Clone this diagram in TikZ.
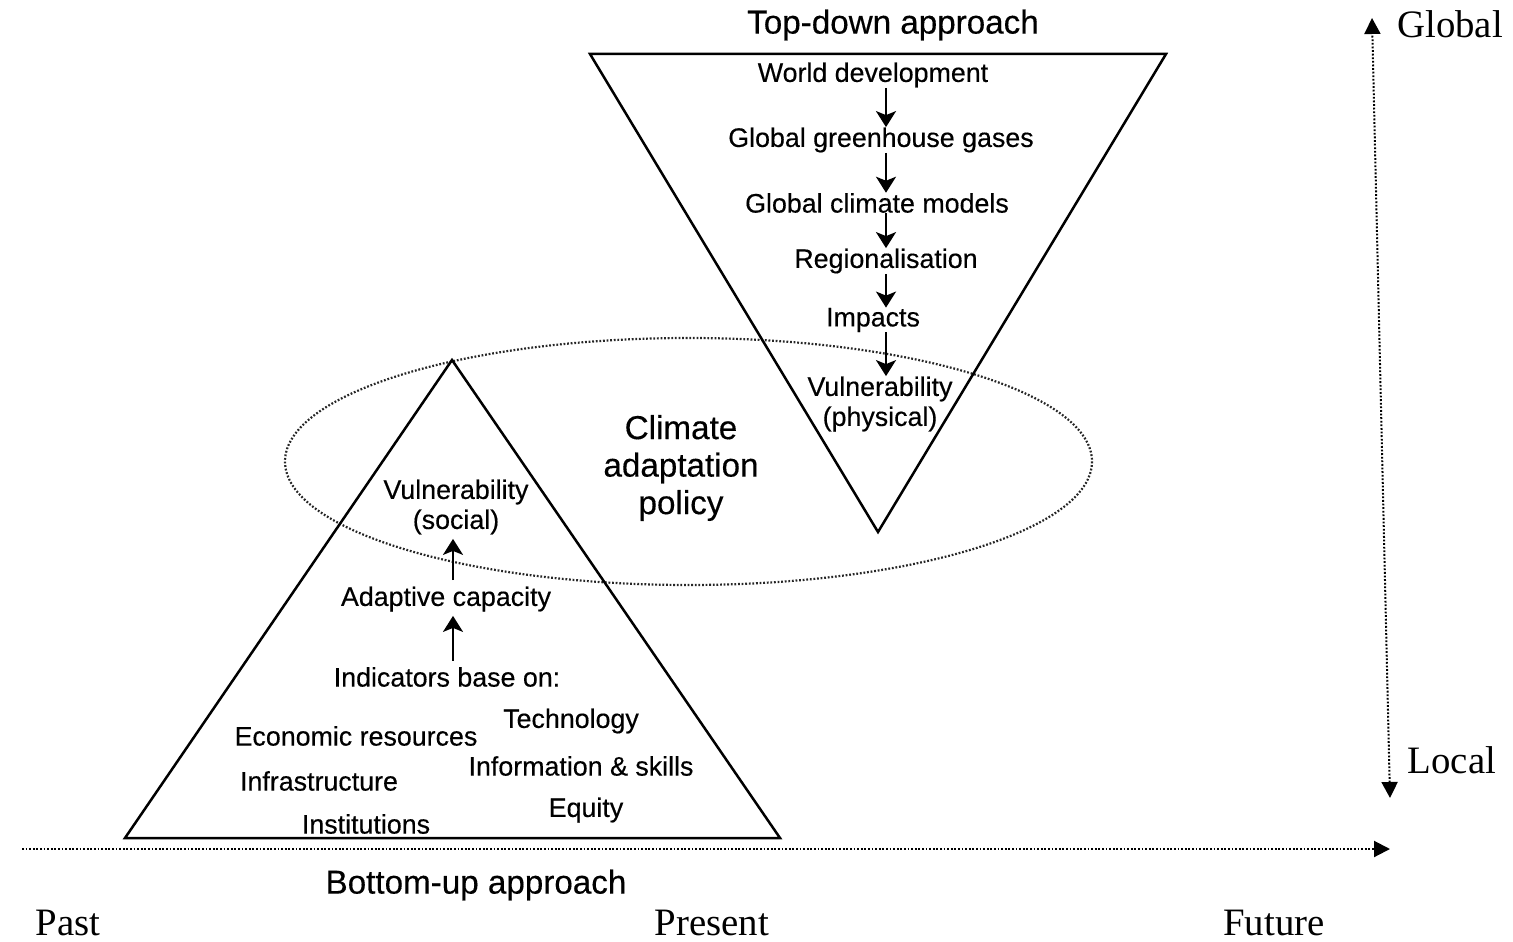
\documentclass[tikz,border=0pt]{standalone}
\usepackage{fontspec}
\setmainfont{Liberation Sans}[FakeBold=0.35]
\newfontfamily\timesfont{Liberation Serif}
\usetikzlibrary{arrows.meta}

\begin{document}
\begin{tikzpicture}[x=0.5pt,y=-0.5pt,
	lbl/.style={inner sep=0pt,font=\fontsize{13.4}{15}\selectfont,align=center},
	big/.style={inner sep=0pt,font=\fontsize{16.6}{18.75}\selectfont,align=center},
	axlbl/.style={inner sep=0pt,font=\timesfont\fontsize{19.4}{22}\selectfont},
	tri/.style={line width=1.25pt,line join=miter},
	flow/.style={line width=1.1pt,-{Stealth[length=8pt,width=10pt,inset=2pt]}},
	axis/.style={line width=1pt,dash pattern=on 0.9pt off 0.9pt,>={Triangle[length=8pt,width=8pt]}}]
	\useasboundingbox (0,0) rectangle (1513,941);
	% policy ellipse and the two triangles
	\draw[line width=1.1pt,dash pattern=on 0.9pt off 0.9pt,black!85] (688.5,461.5) ellipse [x radius=403.5,y radius=123.5];
	\draw[tri] (590,54) -- (1166,54) -- (878,532) -- cycle;
	\draw[tri] (125,838) -- (780,838) -- (452,360) -- cycle;
	% top-down chain
	\node[big] (td) at (893,25) {Top-down approach};
	\coordinate (tdx) at (886,0);
	\node[lbl] (wd) at (873,75) {World development};
	\node[lbl] (ghg) at (881,140) {Global greenhouse gases};
	\node[lbl] (gcm) at (877,203) {Global climate models};
	\node[lbl] (reg) at (886,261) {Regionalisation};
	\node[lbl] (imp) at (873,320) {Impacts};
	\node[lbl] (vphys) at (880,404) {Vulnerability\\(physical)};
	\draw[flow] (wd.south -| tdx) -- (ghg.north -| tdx);
	\draw[flow] (ghg.south -| tdx) -- (gcm.north -| tdx);
	\draw[flow] (gcm.south -| tdx) -- (reg.north -| tdx);
	\draw[flow] (reg.south -| tdx) -- (imp.north -| tdx);
	\draw[flow] (imp.south -| tdx) -- (vphys.north -| tdx);
	% policy
	\node[big] (cap) at (681,468) {Climate\\adaptation\\policy};
	% bottom-up chain
	\coordinate (bux) at (453,0);
	\node[lbl] (vsoc) at (456,507) {Vulnerability\\(social)};
	\node[lbl] (adc) at (446,599) {Adaptive capacity};
	\node[lbl] (ind) at (447,677) {Indicators base on:};
	\draw[flow,shorten <=3pt,shorten >=2pt] (adc.north -| bux) -- (vsoc.south -| bux);
	\draw[flow,shorten <=3pt,shorten >=2pt] (ind.north -| bux) -- (adc.south -| bux);
	\node[lbl] (eco) at (356,736) {Economic resources};
	\node[lbl] (tec) at (571,721) {Technology};
	\node[lbl] (inf) at (319,781) {Infrastructure};
	\node[lbl] (ins) at (581,766) {Information \& skills};
	\node[lbl] (inst) at (366,824) {Institutions};
	\node[lbl] (equ) at (586,810) {Equity};
	\node[big] (bu) at (476,885) {Bottom-up approach};
	% time and scale axes
	\coordinate (t0) at (22,849);
	\coordinate (t1) at (1390,849);
	\draw[axis,->] (t0) -- (t1);
	\coordinate (sloc) at (1390,798);
	\coordinate (sglob) at (1372,18);
	\draw[axis,<->] (sloc) -- (sglob);
	\node[axlbl] (glob) at (1450,24) {Global};
	\node[axlbl] (loc) at (1452,760) {Local};
	\node[axlbl] (past) at (68,923) {Past};
	\node[axlbl] (pres) at (712,923) {Present};
	\node[axlbl] (fut) at (1274,923) {Future};
\end{tikzpicture}
\end{document}
